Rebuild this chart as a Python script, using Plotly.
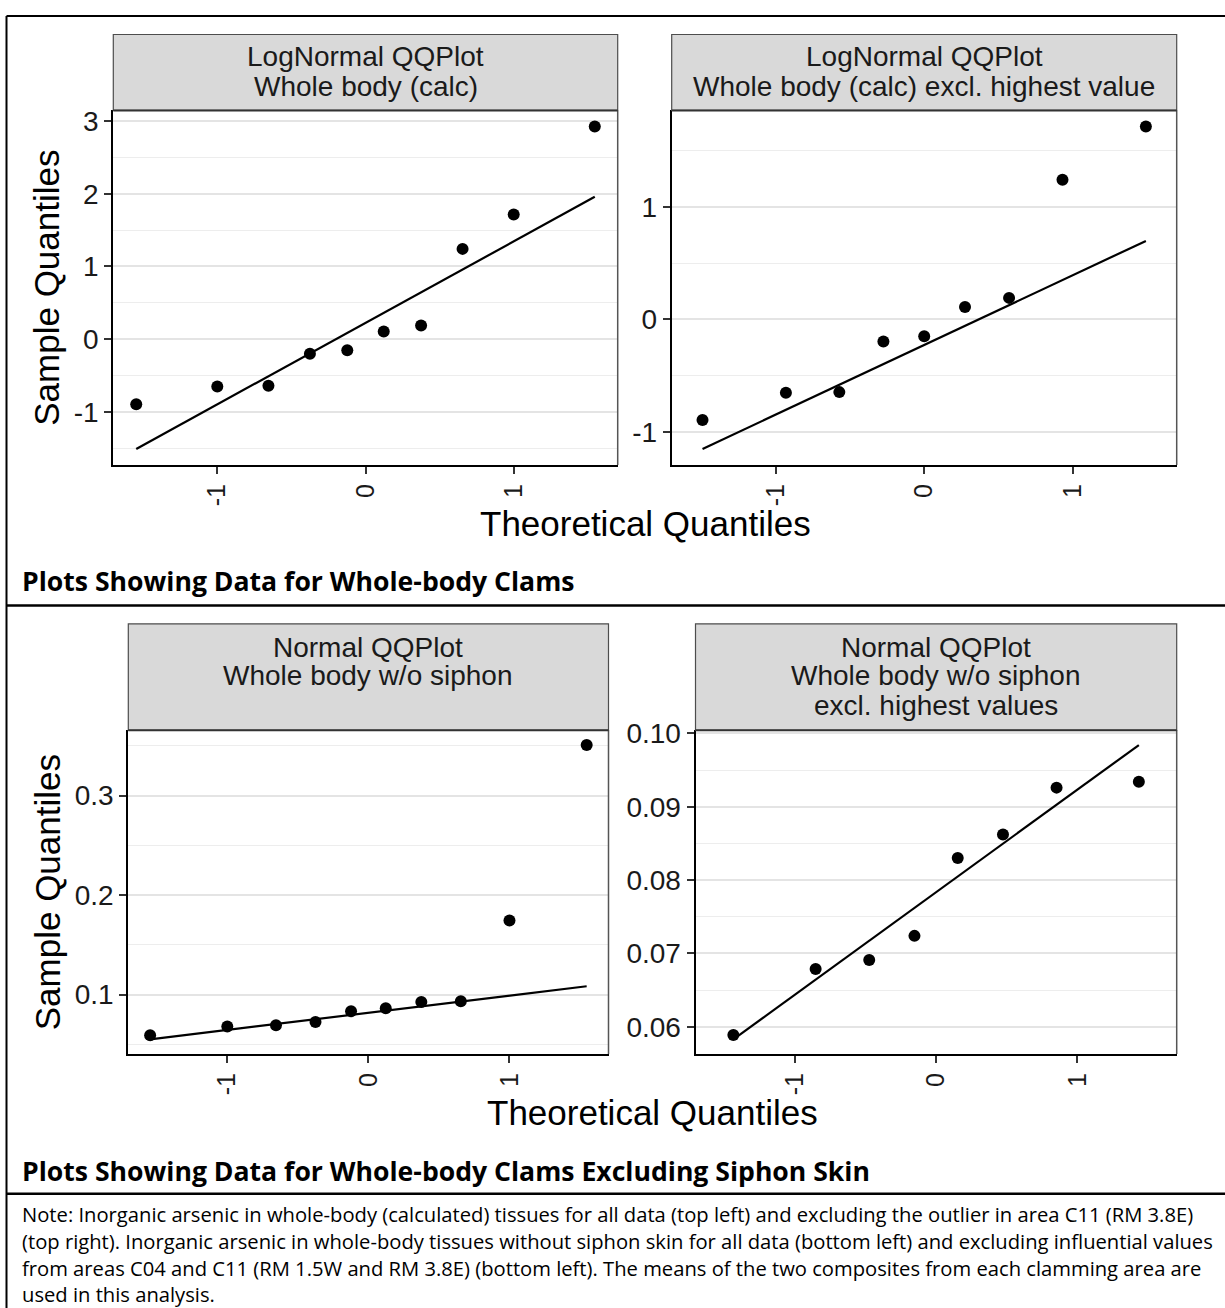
import plotly.graph_objects as go

W, H = 1225, 1308

# ---------------- data ----------------
theo_q10 = [-1.547, -1.000, -0.655, -0.375, -0.123, 0.123, 0.375, 0.655, 1.000, 1.547]
theo_q9 = [-1.494, -0.932, -0.572, -0.275, 0.000, 0.275, 0.572, 0.932, 1.494]
theo_q8 = [-1.434, -0.852, -0.473, -0.153, 0.153, 0.473, 0.852, 1.434]

wb_calc_log = [-0.892, -0.648, -0.639, -0.200, -0.151, 0.107, 0.190, 1.242, 1.715, 2.923]
wb_calc_log_excl = [-0.893, -0.651, -0.645, -0.195, -0.148, 0.110, 0.192, 1.242, 1.714]
wb_nosiphon = [0.0590, 0.0679, 0.0691, 0.0724, 0.0832, 0.0863, 0.0926, 0.0934, 0.1745, 0.3509]
wb_nosiphon_excl = [0.0589, 0.0679, 0.0691, 0.0724, 0.0830, 0.0862, 0.0926, 0.0934]

qqline_x10 = [-1.547, 1.547]
qqline_x9 = [-1.494, 1.494]
qqline_x8 = [-1.434, 1.434]
qqline_calc_log = [-1.507, 1.957]
qqline_calc_log_excl = [-1.150, 0.698]
qqline_nosiphon = [0.0550, 0.1084]
qqline_nosiphon_excl = [0.0583, 0.0984]

x_tickvals = [-1, 0, 1]
x_ticktext = ["-1", "0", "1"]

y_tickvals_tl = [-1, 0, 1, 2, 3]
y_ticktext_tl = ["-1", "0", "1", "2", "3"]
y_minor_tl = [-1.5, -0.5, 0.5, 1.5, 2.5]

y_tickvals_tr = [-1, 0, 1]
y_ticktext_tr = ["-1", "0", "1"]
y_minor_tr = [-1.5, -0.5, 0.5, 1.5]

y_tickvals_bl = [0.1, 0.2, 0.3]
y_ticktext_bl = ["0.1", "0.2", "0.3"]
y_minor_bl = [0.05, 0.15, 0.25, 0.35]

y_tickvals_br = [0.06, 0.07, 0.08, 0.09, 0.10]
y_ticktext_br = ["0.06", "0.07", "0.08", "0.09", "0.10"]
y_minor_br = [0.055, 0.065, 0.075, 0.085, 0.095]

strip_tl = ["LogNormal QQPlot", "Whole body (calc)"]
strip_tr = ["LogNormal QQPlot", "Whole body (calc) excl. highest value"]
strip_bl = ["Normal QQPlot", "Whole body w/o siphon"]
strip_br = ["Normal QQPlot", "Whole body w/o siphon", "excl. highest values"]

x_title = "Theoretical Quantiles"
y_title = "Sample Quantiles"
caption_top = "Plots Showing Data for Whole-body Clams"
caption_bottom = "Plots Showing Data for Whole-body Clams Excluding Siphon Skin"
note_lines = [
    "Note: Inorganic arsenic in whole-body (calculated) tissues for all data (top left) and excluding the outlier in area C11 (RM 3.8E)",
    "(top right). Inorganic arsenic in whole-body tissues without siphon skin for all data (bottom left) and excluding influential values",
    "from areas C04 and C11 (RM 1.5W and RM 3.8E) (bottom left). The means of the two composites from each clamming area are",
    "used in this analysis.",
]

# ---------------- helpers ----------------
def fx(px):
    return px / W

def fy(py):
    return 1 - py / H

def expand(vals, frac=0.05):
    lo, hi = min(vals), max(vals)
    d = (hi - lo) * frac
    return [lo - d, hi + d]

PLOT_FONT = "Liberation Sans, Arial, sans-serif"
DOC_FONT = "Open Sans, Noto Sans, sans-serif"

x_range = expand(theo_q10)

panels = [
    dict(x=theo_q10, y=wb_calc_log, lx=qqline_x10, ly=qqline_calc_log, strip=strip_tl,
         yt=y_tickvals_tl, ytt=y_ticktext_tl, ym=y_minor_tl,
         px=(113.3, 617.7), py=(99.3, 457.3), stop=22.7, sbase=[55, 85]),
    dict(x=theo_q9, y=wb_calc_log_excl, lx=qqline_x9, ly=qqline_calc_log_excl, strip=strip_tr,
         yt=y_tickvals_tr, ytt=y_ticktext_tr, ym=y_minor_tr,
         px=(671.7, 1176.7), py=(99.3, 457.3), stop=22.7, sbase=[55, 85]),
    dict(x=theo_q10, y=wb_nosiphon, lx=qqline_x10, ly=qqline_nosiphon, strip=strip_bl,
         yt=y_tickvals_bl, ytt=y_ticktext_bl, ym=y_minor_bl,
         px=(128.3, 608.5), py=(725.0, 1051.7), stop=617.5, sbase=[650.7, 679.6, 709.4]),
    dict(x=theo_q8, y=wb_nosiphon_excl, lx=qqline_x8, ly=qqline_nosiphon_excl, strip=strip_br,
         yt=y_tickvals_br, ytt=y_ticktext_br, ym=y_minor_br,
         px=(695.5, 1176.7), py=(725.0, 1051.7), stop=617.5, sbase=[650.7, 679.6, 709.4]),
]

fig = go.Figure()
shapes = []
annotations = []
layout_axes = {}

STRIP_SIZE = 28
YTICK_SIZE = 28
XTICK_SIZE = 25
TITLE_SIZE = 35

for i, p in enumerate(panels, start=1):
    xa = "x" if i == 1 else f"x{i}"
    ya = "y" if i == 1 else f"y{i}"
    fig.add_trace(go.Scatter(x=p["lx"], y=p["ly"], mode="lines",
                             line=dict(color="black", width=2.2),
                             xaxis=xa, yaxis=ya, showlegend=False, hoverinfo="skip"))
    fig.add_trace(go.Scatter(x=p["x"], y=p["y"], mode="markers",
                             marker=dict(color="black", size=12),
                             xaxis=xa, yaxis=ya, showlegend=False, cliponaxis=False))
    yr = expand(p["y"] + p["ly"])
    xkey = "xaxis" if i == 1 else f"xaxis{i}"
    ykey = "yaxis" if i == 1 else f"yaxis{i}"
    layout_axes[xkey] = dict(
        domain=[fx(p["px"][0]), fx(p["px"][1])], anchor=ya, range=x_range,
        tickmode="array", tickvals=x_tickvals, ticktext=x_ticktext, tickangle=-90,
        ticks="outside", ticklen=7, tickwidth=1.5, tickcolor="#333333",
        tickfont=dict(family=PLOT_FONT, size=XTICK_SIZE, color="#1a1a1a"),
        showgrid=False, zeroline=False, showline=True, linecolor="black", linewidth=2,
        fixedrange=True,
    )
    layout_axes[ykey] = dict(
        domain=[fy(p["py"][1]), fy(p["py"][0])], anchor=xa, range=yr,
        tickmode="array", tickvals=p["yt"], ticktext=p["ytt"],
        ticks="outside", ticklen=7, tickwidth=1.5, tickcolor="#333333",
        tickfont=dict(family=PLOT_FONT, size=YTICK_SIZE, color="#1a1a1a"),
        showgrid=True, gridcolor="#e4e4e4", gridwidth=1.5,
        minor=dict(tickmode="array", tickvals=p["ym"], showgrid=True,
                   gridcolor="#ededed", gridwidth=1, ticks=""),
        zeroline=False, showline=True, linecolor="black", linewidth=2,
        fixedrange=True,
    )
    x0, x1 = fx(p["px"][0]), fx(p["px"][1])
    # strip
    shapes.append(dict(type="rect", xref="paper", yref="paper",
                       x0=x0, x1=x1, y0=fy(p["py"][0]), y1=fy(p["stop"]),
                       fillcolor="#d9d9d9", line=dict(color="#4d4d4d", width=1.2),
                       layer="above"))
    # panel top/right border
    shapes.append(dict(type="line", xref="paper", yref="paper",
                       x0=x1, x1=x1, y0=fy(p["py"][1]), y1=fy(p["py"][0]),
                       line=dict(color="#555555", width=1.5), layer="above"))
    shapes.append(dict(type="line", xref="paper", yref="paper",
                       x0=x0, x1=x1, y0=fy(p["py"][0]), y1=fy(p["py"][0]),
                       line=dict(color="#333333", width=2), layer="above"))
    cx = (p["px"][0] + p["px"][1]) / 2
    for txt, base in zip(p["strip"], p["sbase"]):
        annotations.append(dict(text=txt, x=fx(cx), y=fy(base - 0.346 * STRIP_SIZE),
                                xref="paper", yref="paper", xanchor="center", yanchor="middle",
                                showarrow=False,
                                font=dict(family=PLOT_FONT, size=STRIP_SIZE, color="#1a1a1a")))

# axis titles
for cx, base in [(645, 528), (652.5, 1122.5)]:
    annotations.append(dict(text=x_title, x=fx(cx), y=fy(base - 0.346 * TITLE_SIZE),
                            xref="paper", yref="paper", xanchor="center", yanchor="middle",
                            showarrow=False,
                            font=dict(family=PLOT_FONT, size=TITLE_SIZE, color="black")))
for cy in [278.3, 888.4]:
    annotations.append(dict(text=y_title, x=fx(47), y=fy(cy), textangle=-90,
                            xref="paper", yref="paper", xanchor="center", yanchor="middle",
                            showarrow=False,
                            font=dict(family=PLOT_FONT, size=TITLE_SIZE, color="black")))

# captions
CAP_SIZE = 26.6
for txt, base in [(caption_top, 585), (caption_bottom, 1180)]:
    annotations.append(dict(text=f"<b>{txt}</b>", x=fx(20), y=fy(base - 0.388 * CAP_SIZE),
                            xref="paper", yref="paper", xanchor="left", yanchor="middle",
                            showarrow=False,
                            font=dict(family=DOC_FONT, size=CAP_SIZE, color="black")))

# note
NOTE_SIZE = 20.2
for txt, base in zip(note_lines, [1220.5, 1247.8, 1275, 1301.5]):
    annotations.append(dict(text=txt, x=fx(20), y=fy(base - 0.388 * NOTE_SIZE),
                            xref="paper", yref="paper", xanchor="left", yanchor="middle",
                            showarrow=False,
                            font=dict(family=DOC_FONT, size=NOTE_SIZE, color="black")))

# table borders
for (xa0, ya0, xa1, ya1, wd) in [
    (6.5, 4, W, 4, 2),          # top
    (6.5, 4, 6.5, H, 2),        # left
    (6.5, 599, W, 599, 2.5),    # divider 1
    (6.5, 1192.7, W, 1192.7, 2.5),  # divider 2
]:
    shapes.append(dict(type="line", xref="paper", yref="paper",
                       x0=fx(xa0), y0=fy(ya0), x1=fx(xa1), y1=fy(ya1),
                       line=dict(color="black", width=wd), layer="above"))

fig.update_layout(
    width=W, height=H, autosize=False,
    margin=dict(l=0, r=0, t=0, b=0),
    paper_bgcolor="white", plot_bgcolor="white",
    showlegend=False,
    shapes=shapes, annotations=annotations,
    **layout_axes,
)

fig.write_html(
    "out.html",
    config={"displayModeBar": False},
    post_script="document.body.style.margin='0px';document.body.style.padding='0px';"
                "document.documentElement.style.overflow='hidden';",
)
